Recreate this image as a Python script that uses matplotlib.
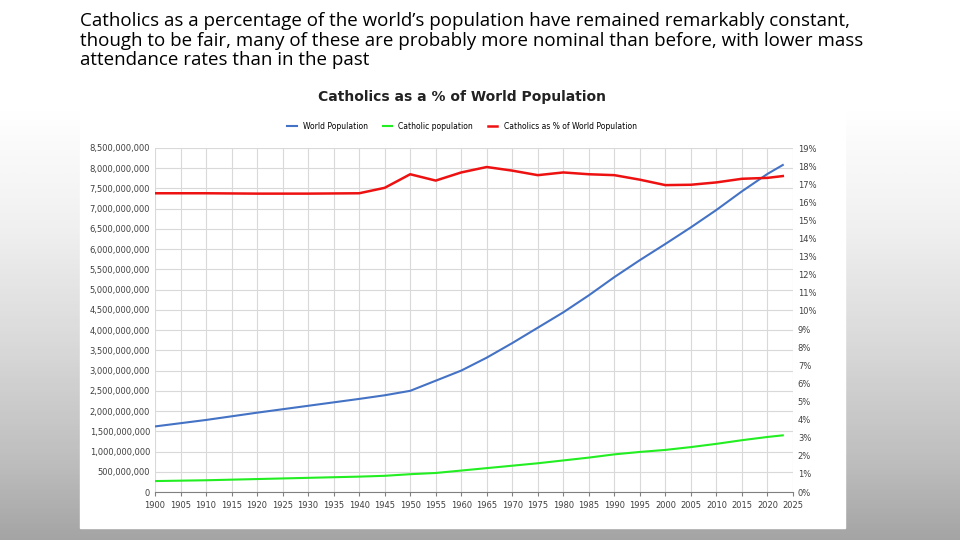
import matplotlib.pyplot as plt
import numpy as np
from matplotlib.ticker import FuncFormatter, MultipleLocator

years = [1900, 1910, 1920, 1930, 1940, 1945, 1950, 1955, 1960, 1965, 1970, 1975,
         1980, 1985, 1990, 1995, 2000, 2005, 2010, 2015, 2020, 2023]
world_pop = [1.62e9, 1.78e9, 1.96e9, 2.13e9, 2.30e9, 2.39e9, 2.50e9, 2.75e9, 3.00e9,
             3.32e9, 3.68e9, 4.06e9, 4.44e9, 4.86e9, 5.31e9, 5.73e9, 6.13e9, 6.54e9,
             6.97e9, 7.43e9, 7.86e9, 8.08e9]
catholic_pop = [0.27e9, 0.29e9, 0.32e9, 0.35e9, 0.38e9, 0.40e9, 0.44e9, 0.47e9, 0.53e9,
                0.59e9, 0.65e9, 0.71e9, 0.78e9, 0.85e9, 0.93e9, 0.99e9, 1.04e9, 1.11e9,
                1.19e9, 1.28e9, 1.36e9, 1.40e9]
catholic_pct = [16.5, 16.5, 16.48, 16.48, 16.5, 16.8, 17.55, 17.2, 17.65, 17.95, 17.75, 17.5,
                17.65, 17.55, 17.5, 17.25, 16.95, 16.97, 17.1, 17.3, 17.35, 17.45]

fig = plt.figure(figsize=(9.6, 5.4), dpi=100)
# slide background: white top fading to grey
grad = np.linspace(0, 1, 256).reshape(-1, 1)
bg = fig.add_axes([0, 0, 1, 1], zorder=-10)
bg.imshow(np.clip((grad - 0.2) / 0.8, 0, 1), cmap='Greys', vmin=0, vmax=2.2,
          aspect='auto', extent=[0, 1, 0, 1])
bg.axis('off')
fig.patches.append(plt.Rectangle((80 / 960, 12 / 540), 765 / 960, 460 / 540,
                                 transform=fig.transFigure, color='white', zorder=-5))

fig.text(80 / 960, 1 - 12 / 540,
         "Catholics as a percentage of the world\u2019s population have remained remarkably constant,\n"
         "though to be fair, many of these are probably more nominal than before, with lower mass\n"
         "attendance rates than in the past", fontsize=13.5, va='top', linespacing=1.12,
         family='Open Sans')

ax = fig.add_axes([155 / 960, 48 / 540, 638 / 960, 344 / 540])
ax2 = ax.twinx()
ax.plot(years, world_pop, color='#4472C4', lw=1.5, label='World Population')
ax.plot(years, catholic_pop, color='#22EE22', lw=1.5, label='Catholic population')
ax2.plot(years, catholic_pct, color='#EE1111', lw=1.8, label='Catholics as % of World Population')

ax.set_xlim(1900, 2025)
ax.set_ylim(0, 8.5e9)
ax2.set_ylim(0, 19)
ax.xaxis.set_major_locator(MultipleLocator(5))
ax.yaxis.set_major_locator(MultipleLocator(5e8))
ax2.yaxis.set_major_locator(MultipleLocator(1))
ax.yaxis.set_major_formatter(FuncFormatter(lambda v, p: f'{v:,.0f}'))
ax2.yaxis.set_major_formatter(FuncFormatter(lambda v, p: f'{v:.0f}%'))
ax.grid(True, color='#d9d9d9', lw=0.8)
for a in (ax, ax2):
    a.tick_params(labelsize=6, length=0, colors='#404040')
    for s in a.spines.values():
        s.set_visible(False)
ax.spines['bottom'].set_visible(True)
ax.spines['bottom'].set_color('#808080')
ax.tick_params(axis='x', length=3, color='#808080')

fig.text(462 / 960, 1 - 97 / 540, 'Catholics as a % of World Population', fontsize=10,
         weight='bold', ha='center', va='center', color='#222222')
h1, l1 = ax.get_legend_handles_labels()
h2, l2 = ax2.get_legend_handles_labels()
fig.legend(h1 + h2, l1 + l2, loc='center', bbox_to_anchor=(462 / 960, 1 - 126 / 540),
           ncol=3, fontsize=5.5, frameon=False, handlelength=1.2, columnspacing=2)

fig.savefig('out.png', dpi=100)
